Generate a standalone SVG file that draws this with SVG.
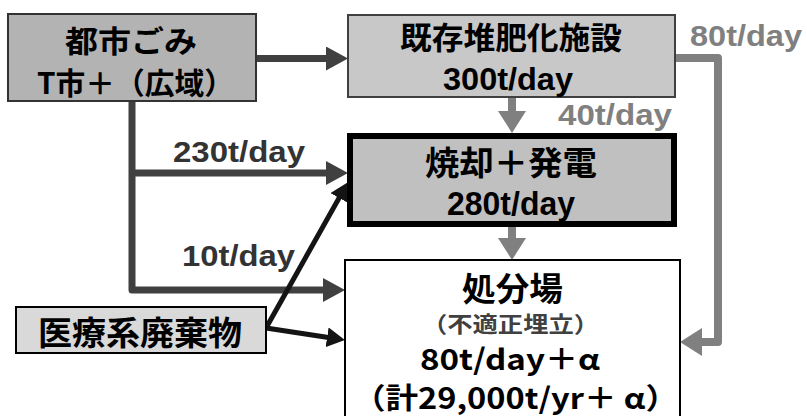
<svg xmlns="http://www.w3.org/2000/svg" width="807" height="416" viewBox="0 0 807 416">
<style>
text{font-family:"Noto Sans CJK JP","Noto Sans",sans-serif;font-weight:bold;fill:#000}
.lat{font-family:"Liberation Sans",Arial,sans-serif}
.lbl{fill:#333}
.glbl{fill:#808080}
.dark{fill:none;stroke:#404040;stroke-width:7;stroke-linejoin:round}
.grey{fill:none;stroke:#808080;stroke-width:8;stroke-linejoin:round}
.blk{fill:none;stroke:#141414;stroke-width:5}
</style>
<defs>
<marker id="aDark" markerUnits="userSpaceOnUse" viewBox="0 0 22 24" markerWidth="22" markerHeight="24" refX="12" refY="12" orient="auto"><path d="M0,0L22,12L0,24z" fill="#404040"/></marker>
<marker id="aGrey" markerUnits="userSpaceOnUse" viewBox="0 0 22 28" markerWidth="22" markerHeight="28" refX="12" refY="14" orient="auto"><path d="M0,0L22,14L0,28z" fill="#808080"/></marker>
<marker id="aBlk" markerUnits="userSpaceOnUse" viewBox="0 0 18 20" markerWidth="18" markerHeight="20" refX="8" refY="10" orient="auto"><path d="M0,0L18,10L0,20z" fill="#141414"/></marker>
</defs>
<rect width="807" height="416" fill="#fff"/>
<g id="connectors">
<path class="dark" d="M256,58.5H338" marker-end="url(#aDark)"/>
<path class="dark" d="M132,101V290H335" marker-end="url(#aDark)"/>
<path class="dark" d="M132,173H338" marker-end="url(#aDark)"/>
<path class="grey" d="M512,97V123" marker-end="url(#aGrey)"/>
<path class="grey" d="M512,227V250" marker-end="url(#aGrey)"/>
<path class="grey" d="M675,58H718V342H690" marker-end="url(#aGrey)"/>
<path class="blk" d="M266,328L343,191" marker-end="url(#aBlk)"/>
<path class="blk" d="M266,328L335,338.5" marker-end="url(#aBlk)"/>
<text class="lat lbl" x="173" y="162" font-size="30" textLength="132" lengthAdjust="spacingAndGlyphs">230t/day</text>
<text class="lat lbl" x="182" y="266" font-size="30" textLength="113" lengthAdjust="spacingAndGlyphs">10t/day</text>
<text class="lat glbl" x="558" y="125" font-size="30" textLength="114" lengthAdjust="spacingAndGlyphs">40t/day</text>
<text class="lat glbl" x="690" y="46" font-size="30" textLength="112" lengthAdjust="spacingAndGlyphs">80t/day</text>
</g>
<g id="node-toshigomi">
<rect x="8" y="14" width="248" height="87" fill="#b3b3b3" stroke="#333" stroke-width="2"/>
<text x="65" y="51.5" font-size="30" textLength="132" lengthAdjust="spacingAndGlyphs">都市ごみ</text>
<text x="37" y="94" font-size="30" textLength="197" lengthAdjust="spacingAndGlyphs">T市＋（広域）</text>
</g>
<g id="node-taihi">
<rect x="348" y="15" width="327" height="82" fill="#c8c8c8" stroke="#404040" stroke-width="2"/>
<text x="400" y="49" font-size="31" textLength="222" lengthAdjust="spacingAndGlyphs">既存堆肥化施設</text>
<text class="lat" x="443" y="90" font-size="31" textLength="130" lengthAdjust="spacingAndGlyphs">300t/day</text>
</g>
<g id="node-shokyaku">
<rect x="350" y="136" width="324" height="88" fill="#c0c0c0" stroke="#000" stroke-width="6"/>
<text x="425" y="174.5" font-size="33" textLength="172" lengthAdjust="spacingAndGlyphs">焼却＋発電</text>
<text class="lat" x="447" y="215" font-size="33" textLength="128" lengthAdjust="spacingAndGlyphs">280t/day</text>
</g>
<g id="node-iryo">
<rect x="16" y="307" width="250" height="46" fill="#d9d9d9" stroke="#000" stroke-width="2"/>
<text x="38" y="345" font-size="33" textLength="204" lengthAdjust="spacingAndGlyphs">医療系廃棄物</text>
</g>
<g id="node-shobunjo">
<rect x="345" y="260" width="335" height="170" fill="#fff" stroke="#000" stroke-width="2"/>
<text x="462" y="300.5" font-size="33" textLength="101" lengthAdjust="spacingAndGlyphs">処分場</text>
<text x="422" y="332" font-size="22" textLength="177" lengthAdjust="spacingAndGlyphs" style="fill:#404040">（不適正埋立）</text>
<text x="420" y="370" font-size="29" textLength="180" lengthAdjust="spacingAndGlyphs">80t/day＋α</text>
<text x="353" y="409" font-size="29" textLength="325" lengthAdjust="spacingAndGlyphs">（計29,000t/yr＋ α）</text>
</g>
</svg>
